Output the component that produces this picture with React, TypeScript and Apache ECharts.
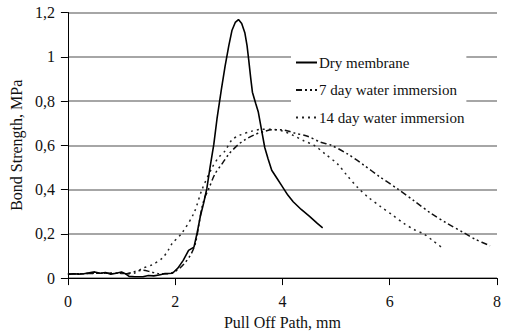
import React, { useEffect, useRef } from "react";
import * as echarts from "echarts";

const seriesNames = ["Dry membrane", "7 day water immersion", "14 day water immersion"];

const dryMembrane: [number, number][] = [
  [0, 0.017], [0.1, 0.02], [0.2, 0.018], [0.3, 0.02], [0.4, 0.024], [0.5, 0.028], [0.6, 0.022],
  [0.7, 0.025], [0.8, 0.018], [0.9, 0.022], [1.0, 0.028], [1.07, 0.02], [1.14, 0.008], [1.25, 0.006],
  [1.4, 0.006], [1.5, 0.012], [1.6, 0.01], [1.7, 0.014], [1.8, 0.02], [1.95, 0.022], [2.05, 0.045],
  [2.15, 0.08], [2.25, 0.125], [2.35, 0.14], [2.41, 0.205], [2.47, 0.28], [2.53, 0.338], [2.59, 0.404],
  [2.65, 0.5], [2.72, 0.604], [2.78, 0.72], [2.86, 0.85], [2.93, 0.957], [3.0, 1.05], [3.06, 1.12],
  [3.12, 1.155], [3.18, 1.168], [3.24, 1.15], [3.3, 1.107], [3.34, 1.05], [3.37, 0.988], [3.41, 0.9],
  [3.44, 0.84], [3.5, 0.79], [3.55, 0.75], [3.61, 0.67], [3.67, 0.59], [3.73, 0.54], [3.8, 0.487],
  [3.9, 0.45], [3.98, 0.42], [4.1, 0.375], [4.2, 0.345], [4.35, 0.31], [4.5, 0.28], [4.65, 0.247],
  [4.75, 0.227],
];

const water7: [number, number][] = [
  [0, 0.018], [0.3, 0.02], [0.6, 0.022], [0.9, 0.022], [1.1, 0.02], [1.25, 0.03], [1.4, 0.035],
  [1.55, 0.028], [1.7, 0.02], [1.85, 0.02], [2.0, 0.03], [2.15, 0.06], [2.3, 0.11], [2.38, 0.16],
  [2.44, 0.24], [2.5, 0.32], [2.56, 0.37], [2.62, 0.4], [2.74, 0.47], [2.87, 0.515], [3.0, 0.56],
  [3.18, 0.604], [3.3, 0.625], [3.48, 0.648], [3.65, 0.662], [3.8, 0.67], [3.98, 0.67], [4.1, 0.665],
  [4.23, 0.655], [4.48, 0.64], [4.7, 0.615], [4.91, 0.6], [5.22, 0.56], [5.52, 0.51], [5.8, 0.46],
  [6.14, 0.404], [6.45, 0.35], [6.76, 0.294], [7.05, 0.25], [7.38, 0.205], [7.6, 0.175], [7.87, 0.146],
];

const water14: [number, number][] = [
  [0, 0.018], [0.3, 0.02], [0.6, 0.022], [0.9, 0.022], [1.1, 0.02], [1.23, 0.022], [1.39, 0.044],
  [1.57, 0.06], [1.76, 0.09], [1.88, 0.13], [1.94, 0.155], [2.13, 0.205], [2.35, 0.294], [2.5, 0.4],
  [2.69, 0.5], [2.81, 0.545], [2.93, 0.575], [3.06, 0.625], [3.2, 0.645], [3.43, 0.664], [3.61, 0.672],
  [3.8, 0.672], [4.0, 0.665], [4.2, 0.645], [4.4, 0.62], [4.59, 0.6], [4.8, 0.56], [5.03, 0.515],
  [5.2, 0.465], [5.4, 0.41], [5.6, 0.365], [5.83, 0.323], [6.05, 0.285], [6.26, 0.248], [6.45, 0.22],
  [6.63, 0.2], [6.8, 0.17], [7.0, 0.133],
];

const xTicks = { min: 0, max: 8, interval: 2 };
const yTicks = { min: 0, max: 1.2, interval: 0.2 };

const FONT = "'Liberation Serif', 'Times New Roman', serif";

export default function App() {
  const ref = useRef<HTMLDivElement>(null);
  useEffect(() => {
    if (!ref.current) return;
    const chart = echarts.init(ref.current, undefined, { renderer: "svg" });
    chart.setOption({
      animation: false,
      backgroundColor: "#ffffff",
      textStyle: { fontFamily: FONT },
      grid: { left: 65, right: 10, top: 12.5, bottom: 52, containLabel: false },
      legend: {
        data: seriesNames,
        orient: "vertical",
        left: 291,
        top: 50,
        width: 174,
        padding: [5, 2, 5, 4],
        itemGap: 12.5,
        itemWidth: 21,
        itemHeight: 14,
        backgroundColor: "#ffffff",
        itemStyle: { opacity: 0 },
        textStyle: { fontFamily: FONT, fontSize: 15, color: "#111", padding: [0, 0, 0, -3] },
      },
      xAxis: {
        type: "value",
        ...xTicks,
        name: "Pull Off Path, mm",
        nameLocation: "middle",
        nameGap: 32,
        nameTextStyle: { fontFamily: FONT, fontSize: 16, color: "#111" },
        axisLine: { show: true, onZero: false, lineStyle: { color: "#000", width: 1 } },
        axisTick: { show: true, length: 7, lineStyle: { color: "#000" } },
        axisLabel: { fontFamily: FONT, fontSize: 16, color: "#111", margin: 15 },
        splitLine: { show: false },
      },
      yAxis: {
        type: "value",
        ...yTicks,
        name: "Bond Strength, MPa",
        nameLocation: "middle",
        nameGap: 37,
        nameTextStyle: { fontFamily: FONT, fontSize: 16, color: "#111" },
        axisLine: { show: true, lineStyle: { color: "#000", width: 1 } },
        axisTick: { show: true, length: 7, lineStyle: { color: "#000" } },
        axisLabel: {
          fontFamily: FONT,
          fontSize: 16,
          color: "#111",
          margin: 13,
          formatter: (v: number) => String(Math.round(v * 10) / 10).replace(".", ","),
        },
        splitLine: { show: true, lineStyle: { color: "#888", width: 1.5 } },
      },
      series: [
        {
          name: seriesNames[0],
          type: "line",
          data: dryMembrane,
          symbol: "none",
          smooth: false,
          lineStyle: { color: "#000", width: 1.6, type: "solid" },
          itemStyle: { color: "#000" },
          z: 5,
        },
        {
          name: seriesNames[1],
          type: "line",
          data: water7,
          symbol: "none",
          smooth: 0.3,
          lineStyle: { color: "#111", width: 1.5, type: [6, 3, 2, 3, 2, 3] },
          itemStyle: { color: "#111" },
          z: 4,
        },
        {
          name: seriesNames[2],
          type: "line",
          data: water14,
          symbol: "none",
          smooth: 0.3,
          lineStyle: { color: "#222", width: 1.5, type: [2, 4] },
          itemStyle: { color: "#222" },
          z: 3,
        },
      ],
    });
    return () => chart.dispose();
  }, []);
  return <div ref={ref} style={{ width: 507, height: 335, position: "absolute", left: 0, top: 0 }} />;
}
